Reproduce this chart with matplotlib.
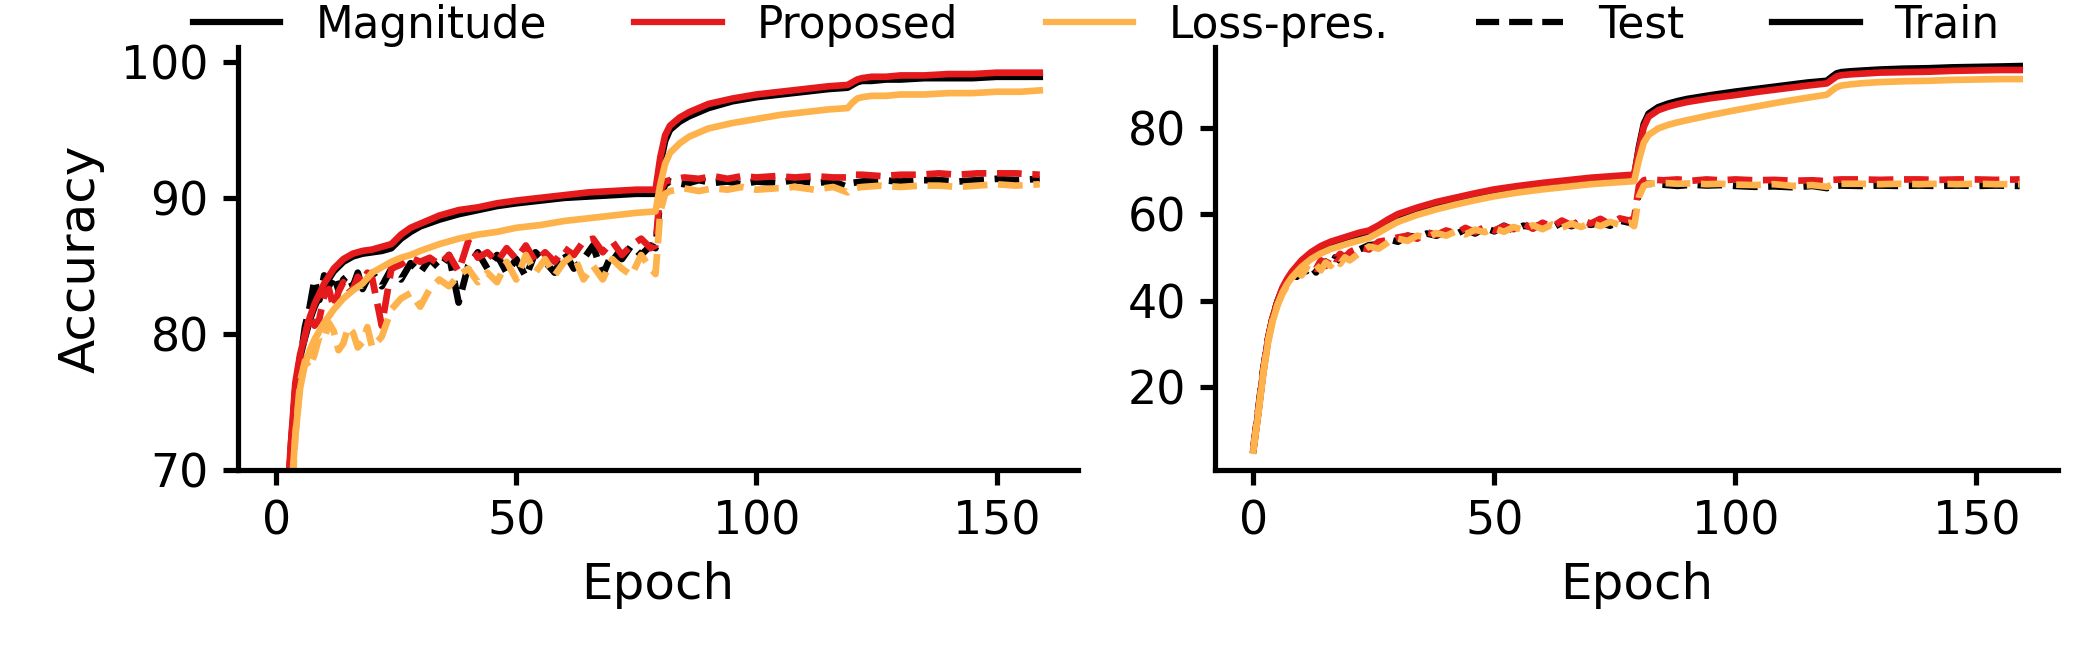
import matplotlib
matplotlib.use("Agg")
import matplotlib.pyplot as plt
from matplotlib.lines import Line2D

plt.rcParams["font.family"] = "DejaVu Sans"
plt.rcParams["font.size"] = 11

ep_train = [0, 1, 2, 3, 4, 5, 6, 7, 8, 10, 12, 14, 16, 18, 20, 22, 24, 26, 28, 30,
            34, 38, 42, 46, 50, 55, 60, 65, 70, 75, 79, 80, 81, 82, 84, 86, 88, 90,
            95, 100, 105, 110, 115, 119, 120, 121, 122, 124, 127, 130, 135, 140,
            145, 150, 155, 159]
ep_test = (list(range(0, 21)) + list(range(22, 80, 2)) +
           [79, 80, 81, 82, 85, 88, 91, 94, 97, 100, 104, 108, 112, 116, 119, 120,
            122, 126, 130, 134, 138, 142, 146, 150, 154, 159])

# ---- left panel (train) ----
left_train_mag = [44, 57, 65.5, 71.0, 76.0, 78.3, 79.7, 81.0, 82.0, 83.5, 84.6, 85.3, 85.7,
                  85.9, 86.0, 86.1, 86.3, 87.0, 87.5, 87.9, 88.4, 88.8, 89.1, 89.4, 89.6,
                  89.8, 90.0, 90.1, 90.2, 90.3, 90.3, 92.5, 94.2, 95.0, 95.6, 96.0, 96.3,
                  96.6, 97.1, 97.4, 97.6, 97.8, 98.0, 98.1, 98.3, 98.5, 98.6, 98.6, 98.7,
                  98.7, 98.8, 98.8, 98.8, 98.9, 98.9, 98.9]
left_train_prop = [45, 58, 66, 71.5, 76.4, 78.5, 79.9, 81.2, 82.2, 83.7, 84.8, 85.5, 85.9,
                   86.1, 86.2, 86.4, 86.6, 87.3, 87.8, 88.1, 88.7, 89.1, 89.3, 89.6, 89.8,
                   90.0, 90.2, 90.4, 90.5, 90.6, 90.6, 93.0, 94.6, 95.3, 95.9, 96.3, 96.6,
                   96.9, 97.3, 97.6, 97.8, 98.0, 98.2, 98.3, 98.5, 98.7, 98.8, 98.9, 98.9,
                   99.0, 99.0, 99.1, 99.1, 99.2, 99.2, 99.2]
left_train_loss = [40, 52, 61, 67.5, 72.5, 76.0, 77.8, 78.8, 79.6, 80.8, 81.8, 82.6, 83.2,
                   83.7, 84.5, 84.9, 85.3, 85.6, 85.8, 86.1, 86.6, 87.0, 87.3, 87.5, 87.8,
                   88.0, 88.3, 88.5, 88.7, 88.9, 89.0, 91.0, 92.5, 93.3, 94.0, 94.5, 94.8,
                   95.1, 95.5, 95.8, 96.1, 96.3, 96.5, 96.6, 97.0, 97.3, 97.4, 97.5, 97.5,
                   97.6, 97.6, 97.7, 97.7, 97.8, 97.8, 97.9]

# ---- left panel (test) ----
left_test_mag = [38, 50, 61, 70.5, 75.5, 78.0, 80.5, 82.0, 84.0, 82.5, 84.3, 83.5, 84.3,
                 83.2, 84.0, 84.3, 83.5, 84.5, 83.3, 84.0, 84.5,
                 83.5, 84.8, 84.0, 85.2, 84.5, 85.5, 84.8, 85.8, 82.3, 85.0, 86.0, 84.8,
                 85.8, 84.5, 85.5, 84.2, 86.0, 85.3, 84.5, 86.0, 84.8, 85.5, 86.5, 84.3,
                 86.0, 85.5, 86.5, 85.8, 86.5,
                 86.3, 90.0, 91.0, 91.2, 91.0, 91.3, 91.1, 91.2, 91.0, 91.2, 91.1, 91.3,
                 91.1, 91.2, 90.8, 91.1, 91.2, 91.3, 91.2, 91.3, 91.3, 91.2, 91.3, 91.4,
                 91.3, 91.4]
left_test_prop = [40, 52, 62, 71.5, 75.9, 77.9, 79.9, 81.4, 80.6, 81.1, 82.8, 83.3, 81.9,
                  83.1, 83.8, 83.0, 83.3, 84.2, 83.8, 84.5, 84.1,
                  80.6, 84.8, 85.1, 85.6, 85.3, 85.6, 85.1, 85.8, 84.6, 86.8, 85.6, 86.0,
                  85.3, 86.3, 85.5, 86.5, 85.3, 86.0, 85.3, 86.3, 85.8, 86.8, 87.0, 86.0,
                  86.8, 85.8, 86.5, 87.0, 86.3,
                  86.5, 90.5, 91.2, 91.3, 91.5, 91.4, 91.6, 91.4, 91.6, 91.5, 91.6, 91.5,
                  91.6, 91.5, 91.5, 91.7, 91.7, 91.6, 91.7, 91.7, 91.8, 91.7, 91.8, 91.8,
                  91.8, 91.7]
left_test_loss = [35, 47, 58, 66, 72.5, 76.5, 78.0, 77.5, 78.5, 79.8, 79.6, 80.8, 80.2,
                  78.8, 79.3, 80.5, 80.1, 79.0, 79.4, 80.5, 79.0,
                  79.8, 81.8, 82.6, 83.0, 82.0, 83.3, 84.0, 83.5, 84.3, 84.8, 83.8, 84.5,
                  83.8, 85.3, 84.0, 85.8, 84.5, 85.5, 84.3, 85.3, 85.8, 84.0, 85.0, 84.0,
                  85.5, 84.8, 84.3, 85.8, 84.8,
                  84.4, 89.0, 90.3, 90.5, 90.7, 90.5, 90.7, 90.6, 90.8, 90.6, 90.7, 90.8,
                  90.6, 90.8, 90.4, 90.7, 90.8, 90.9, 90.8, 90.9, 90.9, 90.8, 90.9, 91.0,
                  90.9, 91.0]

# ---- right panel (train) ----
right_train_mag = [5.5, 14.0, 23.2, 30.8, 36.0, 39.7, 42.6, 44.7, 46.3, 48.8, 50.7, 52.0,
                   53.0, 53.7, 54.4, 55.0, 55.5, 56.7, 58.1, 59.3, 60.9, 62.2, 63.3, 64.3,
                   65.1, 66.0, 66.7, 67.3, 67.9, 68.3, 68.6, 75.5, 80.8, 83.2, 84.7, 85.5,
                   86.1, 86.6, 87.5, 88.3, 89.0, 89.7, 90.4, 90.8, 91.7, 92.5, 92.8, 93.0,
                   93.2, 93.4, 93.6, 93.7, 93.9, 94.0, 94.1, 94.2]
right_train_prop = [5.5, 13.9, 23.0, 30.7, 36.0, 39.8, 42.9, 45.0, 46.7, 49.3, 51.2, 52.6,
                    53.6, 54.3, 55.0, 55.7, 56.2, 57.4, 58.8, 60.0, 61.5, 62.8, 63.8, 64.8,
                    65.7, 66.5, 67.2, 67.8, 68.4, 68.8, 69.1, 75.0, 80.1, 82.5, 84.0, 84.8,
                    85.4, 85.9, 86.8, 87.5, 88.3, 89.0, 89.7, 90.2, 91.0, 91.8, 92.1, 92.3,
                    92.5, 92.7, 92.8, 92.9, 93.1, 93.2, 93.3, 93.3]
right_train_loss = [5.3, 13.5, 22.5, 30.0, 35.2, 38.9, 41.8, 43.8, 45.4, 47.8, 49.6, 50.9,
                    51.9, 52.6, 53.3, 53.9, 54.5, 55.7, 57.0, 58.2, 59.8, 61.1, 62.2, 63.2,
                    64.1, 65.0, 65.7, 66.3, 66.9, 67.3, 67.6, 72.5, 76.5, 78.3, 79.8, 80.6,
                    81.2, 81.7, 82.9, 84.0, 85.0, 86.0, 86.9, 87.6, 88.5, 89.3, 89.7, 90.0,
                    90.3, 90.5, 90.7, 90.8, 91.0, 91.1, 91.2, 91.2]

# ---- right panel (test) ----
right_test_mag = [6.0, 14.8, 23.8, 31.0, 36.2, 39.8, 42.5, 44.5, 46.3, 45.5, 47.3, 46.8,
                  48.0, 46.5, 48.8, 49.0, 47.8, 50.0, 49.2, 50.3, 49.5,
                  51.8, 52.8, 53.0, 54.2, 53.6, 55.0, 54.6, 55.5, 55.0, 56.0, 55.3, 56.5,
                  55.5, 56.8, 56.0, 57.3, 56.2, 57.3, 57.0, 57.6, 56.8, 58.0, 57.2, 58.2,
                  57.5, 58.0, 57.3, 58.5, 58.0,
                  58.3, 65.5, 66.8, 67.0, 66.8, 66.5, 66.8, 66.6, 66.7, 66.5, 66.3, 66.4,
                  66.2, 66.5, 66.0, 66.5, 66.6, 66.5, 66.6, 66.5, 66.6, 66.5, 66.6, 66.5,
                  66.6, 66.5]
right_test_prop = [6.0, 14.5, 23.5, 31.0, 36.0, 39.5, 42.0, 44.0, 45.5, 47.0, 46.2, 47.8,
                   48.5, 47.3, 49.3, 48.0, 50.5, 49.6, 50.8, 50.0, 51.2,
                   52.3, 51.8, 53.6, 54.0, 54.6, 55.0, 54.3, 55.8, 55.2, 56.2, 55.5, 56.8,
                   55.8, 57.0, 56.2, 57.2, 56.5, 57.8, 56.6, 58.0, 57.0, 58.5, 57.4, 58.6,
                   57.8, 58.9, 57.6, 59.0, 58.5,
                   59.0, 66.5, 67.8, 68.0, 67.8, 68.0, 67.7, 68.0, 67.8, 68.0, 67.8, 67.9,
                   67.7, 67.8, 67.6, 67.9, 68.0, 68.0, 67.9, 68.0, 68.0, 67.9, 68.0, 68.0,
                   67.9, 68.0]
right_test_loss = [5.8, 14.0, 23.0, 30.5, 35.5, 39.0, 41.5, 43.5, 45.2, 46.5, 45.8, 47.5,
                   46.8, 48.2, 47.0, 48.8, 48.0, 49.5, 48.5, 50.0, 49.3,
                   51.0, 52.5, 52.0, 53.5, 54.3, 53.8, 55.0, 54.6, 55.6, 55.0, 56.0, 55.3,
                   56.4, 55.8, 56.7, 55.9, 57.0, 56.3, 57.4, 56.5, 57.6, 56.8, 57.8, 57.0,
                   58.0, 57.2, 58.2, 57.5, 58.0,
                   57.2, 64.0, 66.5, 67.0, 67.2, 67.0, 67.1, 66.9, 67.0, 66.8, 66.7, 66.9,
                   66.5, 66.7, 66.3, 66.8, 67.0, 67.0, 66.9, 67.0, 66.9, 67.0, 66.9, 67.0,
                   66.9, 66.9]

methods = ["Magnitude", "Proposed", "Loss-pres."]
colors = ["black", "#e41a1c", "#feb24c"]

fig = plt.figure(figsize=(7, 2.2), dpi=300)
ax1 = fig.add_axes([0.1133, 0.288, 0.400, 0.641])
ax2 = fig.add_axes([0.5786, 0.288, 0.4014, 0.641])

panels = [
    (ax1, [left_train_mag, left_train_prop, left_train_loss],
          [left_test_mag, left_test_prop, left_test_loss]),
    (ax2, [right_train_mag, right_train_prop, right_train_loss],
          [right_test_mag, right_test_prop, right_test_loss]),
]

for ax, trains, tests in panels:
    for tr, te, c in zip(trains, tests, colors):
        ax.plot(ep_train, tr, color=c, lw=1.6, ls="-")
        ax.plot(ep_test, te, color=c, lw=1.6, ls="--")
    ax.set_xlabel("Epoch", fontsize=12)
    ax.set_xticks([0, 50, 100, 150])
    ax.spines["top"].set_visible(False)
    ax.spines["right"].set_visible(False)
    for s in ["left", "bottom"]:
        ax.spines[s].set_linewidth(1.25)
    ax.tick_params(width=1.25, length=3.5, labelsize=11)

ax1.set_ylim(70, 101.1)
ax1.set_yticks([70, 80, 90, 100])
ax1.set_ylabel("Accuracy", fontsize=12)
ax2.set_yticks([20, 40, 60, 80])

handles = [Line2D([], [], color=c, lw=1.5) for c in colors]
handles += [Line2D([], [], color="black", lw=1.5, ls="--"),
            Line2D([], [], color="black", lw=1.5, ls="-")]
labels = methods + ["Test", "Train"]
fig.legend(handles, labels, loc="center", bbox_to_anchor=(0.522, 0.962),
           ncol=5, frameon=False, fontsize=10.5)

fig.savefig("out.png", dpi=300)
